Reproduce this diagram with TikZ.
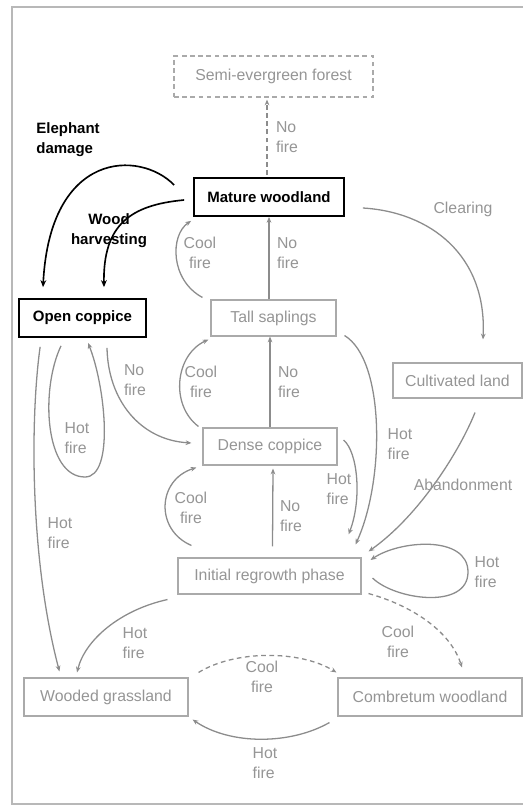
\documentclass[tikz,border=0pt]{standalone}
\usepackage{fontspec}
\setmainfont{Liberation Sans}
\usetikzlibrary{arrows.meta, calc}

\definecolor{linegray}{HTML}{8C8C8C}
\definecolor{boxgray}{HTML}{AAAAAA}
\definecolor{framegray}{HTML}{B8B8B8}
\definecolor{textgray}{HTML}{959595}

\tikzset{
    state/.style={draw=boxgray, line width=0.9pt, text=textgray, inner sep=0pt,
        font=\fontsize{13.5}{17}\selectfont},
    keystate/.style={draw=black, line width=1.5pt, text=black, inner sep=0pt,
        font=\fontsize{12.8}{17}\selectfont\bfseries},
    lbl/.style={text=textgray, align=left, inner sep=0pt, font=\fontsize{13.5}{17}\selectfont},
    keylbl/.style={text=black, inner sep=0pt, font=\fontsize{12.8}{17}\selectfont\bfseries},
    arr/.style={draw=linegray, line width=1.1pt, -{Stealth[length=5pt,width=4pt]}},
    dasharr/.style={arr, dash pattern=on 4pt off 3pt},
    keyarr/.style={draw=black, line width=1.4pt, -{Stealth[length=6pt,width=5pt]}}
}

\begin{document}
\begin{tikzpicture}[x=0.03cm, y=-0.03cm]
    \useasboundingbox (0,0) rectangle (523,806);

    % Frame
    \draw[framegray, line width=1.1pt] (523,7) -- (12,7) -- (12,804) -- (523,804);

    % States
    \node[state, dash pattern=on 4pt off 3pt, minimum width=5.97cm, minimum height=1.23cm]
        (semi) at (273.5,76.5) {Semi-evergreen forest};
    \node[keystate, minimum width=4.5cm, minimum height=1.14cm] (mature) at (269,197) {Mature woodland};
    \node[keystate, minimum width=3.81cm, minimum height=1.14cm] (open) at (82.5,318) {Open coppice};
    \node[state, minimum width=3.75cm, minimum height=1.08cm] (tall) at (273.5,318) {Tall saplings};
    \node[state, minimum width=3.87cm, minimum height=1.05cm] (cult) at (457.5,380.5) {Cultivated land};
    \node[state, minimum width=4.02cm, minimum height=1.11cm] (dense) at (270,446.5) {Dense coppice};
    \node[state, minimum width=5.49cm, minimum height=1.08cm] (initial) at (269.5,576) {Initial regrowth phase};
    \node[state, minimum width=4.92cm, minimum height=1.14cm] (wooded) at (106,697) {Wooded grassland};
    \node[state, minimum width=5.52cm, minimum height=1.14cm] (combre) at (430,697) {Combretum woodland};

    % Disturbance arrows
    \draw[keyarr] ($(mature.west)+(-19,-12)$) .. controls (140,150) and (50,150) .. ($(open.north)+(-39.5,-11)$);
    \draw[keyarr] ($(mature.west)+(-9,3)$) .. controls (130,205) and (103,225) .. ($(open.north)+(21.5,-11)$);
    \node[keylbl, align=left] (elephant) at (68,140) {Elephant\\damage};
    \node[keylbl, align=center] (harvest) at (109,231) {Wood\\harvesting};

    % Upper transitions
    \draw[dasharr] ($(mature.north)+(-2,-2)$) -- ($(semi.south)+(-6.5,2)$);
    \node[lbl] (nofire1) at (287,137) {No\\fire};
    \draw[arr] ($(mature.east)+(18,11)$) .. controls (430,212) and (487,255) .. ($(cult.north)+(25.5,-23)$);
    \node[lbl] (clearing) at (463,209) {Clearing};
    \draw[arr] ($(tall.north west)+(-8,-2)$) .. controls (170,280) and (170,235) .. ($(mature.south west)+(-2,4)$);
    \node[lbl, align=center] (cool1) at (200,253) {Cool\\fire};
    \draw[arr] (tall.north -| mature.south) -- (mature.south);
    \node[lbl] (nofire2) at (288,253) {No\\fire};

    % Open coppice
    \draw[arr] ($(open.south)+(24.5,10)$) .. controls (108,400) and (140,440) .. ($(dense.west)+(-11,-3.5)$);
    \node[lbl] (nofire3) at (135,380) {No\\fire};
    \draw[arr] ($(open.south)+(-21.5,8)$) .. controls (40,390) and (45,477) .. (85,477)
        .. controls (115,477) and (105,385) .. ($(open.south)+(5.5,5)$);
    \node[lbl] (hot1) at (77,438) {Hot\\fire};
    \draw[arr] ($(open.south west)+(22,9)$) .. controls (30,420) and (30,560) .. ($(wooded.north west)+(36,-6)$);
    \node[lbl] (hot2) at (60,533) {Hot\\fire};

    % Dense coppice and tall saplings
    \draw[arr] ($(dense.north west)+(-4,-1)$) .. controls (170,405) and (175,355) .. ($(tall.south west)+(-2,3)$);
    \node[lbl, align=center] (cool2) at (201,382) {Cool\\fire};
    \draw[arr] (dense.north) -- (dense.north |- tall.south);
    \node[lbl] (nofire4) at (289,382) {No\\fire};
    \draw[arr] ($(tall.south east)+(8,-1)$) .. controls (385,360) and (385,480) .. ($(initial.north east)+(-6,-13)$);
    \node[lbl] (hot3) at (400,444) {Hot\\fire};
    \draw[arr] ($(dense.east)+(6,-6.5)$) .. controls (358,452) and (362,500) .. ($(initial.north east)+(-13,-23)$);
    \node[lbl] (hot4) at (339,489) {Hot\\fire};
    \draw[arr] ($(cult.south)+(17.5,14)$) .. controls (460,450) and (420,515) .. ($(initial.north east)+(7,-6)$);
    \node[lbl] (abandon) at (463,485) {Abandonment};

    % Initial regrowth phase
    \draw[arr] ($(initial.north west)+(14,-12)$) .. controls (155,530) and (157,480) .. ($(dense.south west)+(-6,2)$);
    \node[lbl, align=center] (cool3) at (191,508) {Cool\\fire};
    \draw[arr] ($(initial.north)+(3,-11)$) -- ($(dense.south)+(3,3)$);
    \node[lbl] (nofire5) at (291,516) {No\\fire};
    \draw[arr] ($(initial.east)+(11,2)$) .. controls (395,600) and (468,610) .. (468,572)
        .. controls (468,535) and (400,540) .. ($(initial.east)+(9,-16)$);
    \node[lbl] (hot5) at (487,572) {Hot\\fire};
    \draw[arr] ($(initial.south west)+(-10,5)$) .. controls (120,610) and (85,640) .. ($(wooded.north)+(-29,-5)$);
    \node[lbl] (hot6) at (135,643) {Hot\\fire};
    \draw[dasharr] ($(initial.south east)+(7,-1)$) .. controls (410,605) and (450,630) .. ($(combre.north)+(32,-10)$);
    \node[lbl, align=center] (cool4) at (398,642) {Cool\\fire};

    % Bottom pair
    \draw[dasharr] ($(wooded.north east)+(10,-5)$) .. controls (235,650) and (300,650) .. ($(combre.north west)+(-1,-5)$);
    \node[lbl, align=center] (cool5) at (262,677) {Cool\\fire};
    \draw[arr] ($(combre.south west)+(-8,6)$) .. controls (290,745) and (230,745) .. ($(wooded.south east)+(4,3)$);
    \node[lbl] (hot7) at (265,763) {Hot\\fire};
\end{tikzpicture}
\end{document}
